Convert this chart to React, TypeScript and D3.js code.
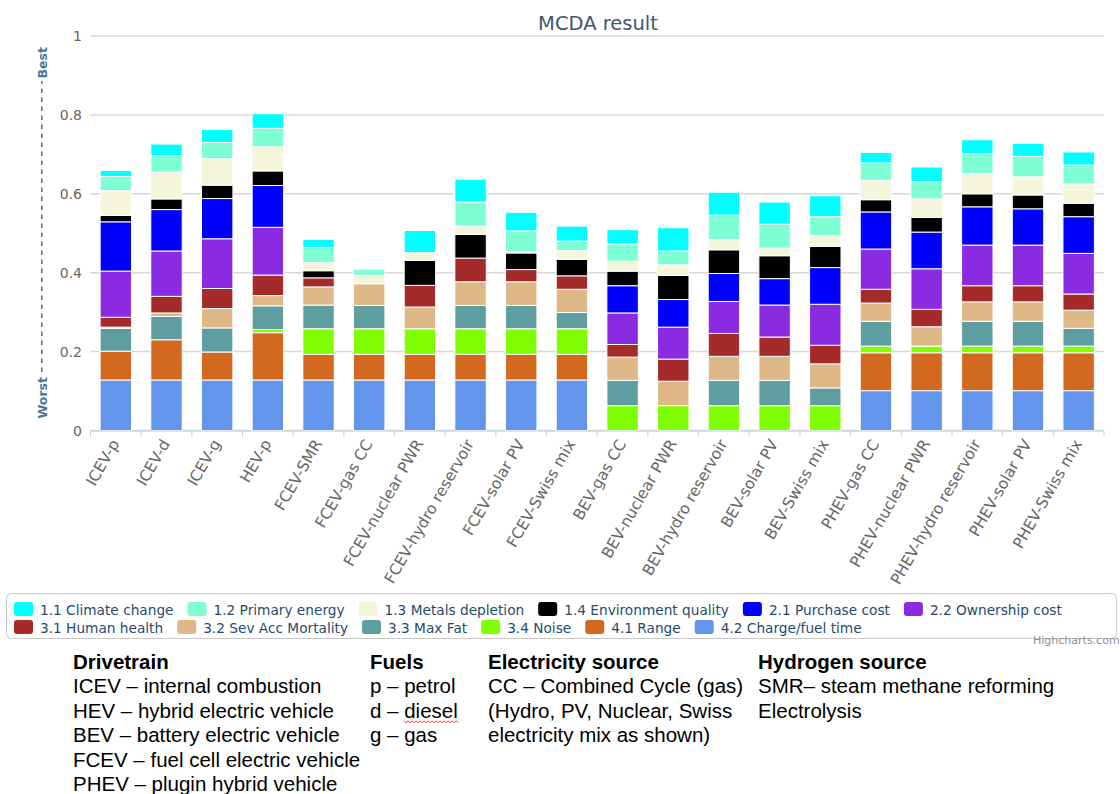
import React, { useMemo } from 'react';
import * as d3 from 'd3';

const categories = [
  'ICEV-p', 'ICEV-d', 'ICEV-g', 'HEV-p', 'FCEV-SMR', 'FCEV-gas CC', 'FCEV-nuclear PWR',
  'FCEV-hydro reservoir', 'FCEV-solar PV', 'FCEV-Swiss mix', 'BEV-gas CC', 'BEV-nuclear PWR',
  'BEV-hydro reservoir', 'BEV-solar PV', 'BEV-Swiss mix', 'PHEV-gas CC', 'PHEV-nuclear PWR',
  'PHEV-hydro reservoir', 'PHEV-solar PV', 'PHEV-Swiss mix',
];

const seriesNames = [
  '1.1 Climate change', '1.2 Primary energy', '1.3 Metals depletion', '1.4 Environment quality',
  '2.1 Purchase cost', '2.2 Ownership cost', '3.1 Human health', '3.2 Sev Acc Mortality',
  '3.3 Max Fat', '3.4 Noise', '4.1 Range', '4.2 Charge/fuel time',
];

const seriesColors = [
  '#00FFFF', '#7FFFD4', '#F5F5DC', '#000000', '#0000FF', '#8A2BE2',
  '#A52A2A', '#DEB887', '#5F9EA0', '#7FFF00', '#D2691E', '#6495ED',
];

const climateChange = [0.015, 0.029, 0.033, 0.037, 0.020, 0, 0.056, 0.058, 0.047, 0.038, 0.036, 0.059, 0.058, 0.056, 0.053, 0.027, 0.037, 0.035, 0.033, 0.033];
const primaryEnergy = [0.036, 0.042, 0.041, 0.047, 0.038, 0.016, 0, 0.061, 0.053, 0.024, 0.044, 0.035, 0.062, 0.061, 0.048, 0.044, 0.044, 0.051, 0.052, 0.048];
const metalsDepletion = [0.063, 0.068, 0.067, 0.061, 0.021, 0.021, 0.020, 0.021, 0.003, 0.022, 0.025, 0.027, 0.026, 0.019, 0.027, 0.049, 0.047, 0.051, 0.046, 0.049];
const environmentQuality = [0.016, 0.027, 0.034, 0.037, 0.018, 0, 0.063, 0.060, 0.042, 0.042, 0.037, 0.061, 0.060, 0.058, 0.054, 0.031, 0.037, 0.033, 0.035, 0.034];
const purchaseCost = [0.125, 0.105, 0.102, 0.106, 0, 0, 0, 0, 0, 0, 0.069, 0.070, 0.071, 0.067, 0.093, 0.094, 0.093, 0.097, 0.092, 0.093];
const ownershipCost = [0.117, 0.115, 0.126, 0.121, 0, 0, 0, 0, 0, 0, 0.080, 0.081, 0.081, 0.081, 0.104, 0.102, 0.103, 0.103, 0.103, 0.103];
const humanHealth = [0.025, 0.042, 0.051, 0.052, 0.023, 0, 0.055, 0.060, 0.031, 0.034, 0.032, 0.056, 0.058, 0.049, 0.047, 0.035, 0.044, 0.041, 0.041, 0.041];
const sevAccMortality = [0.003, 0.009, 0.049, 0.026, 0.046, 0.055, 0.055, 0.060, 0.060, 0.059, 0.059, 0.062, 0.061, 0.061, 0.061, 0.046, 0.049, 0.049, 0.049, 0.046];
const maxFat = [0.058, 0.059, 0.061, 0.060, 0.060, 0.059, 0, 0.059, 0.059, 0.041, 0.064, 0, 0.064, 0.064, 0.045, 0.063, 0, 0.063, 0.063, 0.045];
const noise = [0, 0, 0, 0.008, 0.065, 0.065, 0.065, 0.065, 0.065, 0.065, 0.063, 0.063, 0.063, 0.063, 0.063, 0.017, 0.017, 0.017, 0.017, 0.017];
const range = [0.073, 0.102, 0.071, 0.120, 0.065, 0.065, 0.065, 0.065, 0.065, 0.065, 0, 0, 0, 0, 0, 0.096, 0.096, 0.096, 0.096, 0.096];
const chargeFuelTime = [0.128, 0.128, 0.128, 0.128, 0.128, 0.128, 0.128, 0.128, 0.128, 0.128, 0, 0, 0, 0, 0, 0.101, 0.101, 0.101, 0.101, 0.101];

const seriesValues = [
  climateChange, primaryEnergy, metalsDepletion, environmentQuality, purchaseCost, ownershipCost,
  humanHealth, sevAccMortality, maxFat, noise, range, chargeFuelTime,
];

const yTicks = [0, 0.2, 0.4, 0.6, 0.8, 1];
const yTickLabels = ['0', '0.2', '0.4', '0.6', '0.8', '1'];

const chartTitle = 'MCDA result';
const yTitleLow = 'Worst';
const yTitleHigh = 'Best';
const creditText = 'Highcharts.com';

const noteColumns = [
  { heading: 'Drivetrain', lines: ['ICEV – internal combustion', 'HEV – hybrid electric vehicle', 'BEV – battery electric vehicle', 'FCEV – fuel cell electric vehicle', 'PHEV – plugin hybrid vehicle'] },
  { heading: 'Fuels', lines: ['p – petrol', 'd – diesel', 'g – gas'] },
  { heading: 'Electricity source', lines: ['CC – Combined Cycle (gas)', '(Hydro, PV, Nuclear, Swiss', 'electricity mix as shown)'] },
  { heading: 'Hydrogen source', lines: ['SMR– steam methane reforming', 'Electrolysis'] },
];

const W = 1120;
const H = 794;
const plotLeft = 90.5;
const plotRight = 1104;
const plotTop = 36;
const plotBottom = 430.5;

const hcFont = '"DejaVu Sans", Verdana, sans-serif';
const noteFont = '"Liberation Sans", Arial, sans-serif';

function measure(text: string, font: string): number {
  if (typeof document === 'undefined') return text.length * 7;
  const c = document.createElement('canvas');
  const ctx = c.getContext('2d');
  if (!ctx) return text.length * 7;
  ctx.font = font;
  return ctx.measureText(text).width;
}

export default function App() {
  const x = d3.scaleBand<string>().domain(categories).range([plotLeft, plotRight]).paddingInner(0.38).paddingOuter(0.19);
  const y = d3.scaleLinear().domain([0, 1]).range([plotBottom, plotTop]);

  const keysBottomUp = seriesNames.map((_, i) => i).reverse();
  const table = categories.map((c, ci) => {
    const row: any = { cat: c };
    seriesValues.forEach((arr, si) => { row['s' + si] = arr[ci]; });
    return row;
  });
  const stack = d3.stack<any>().keys(keysBottomUp.map((i) => 's' + i));
  const layers = stack(table);

  const legendFontSize = 13.7;
  const legendItems = useMemo(() => {
    const font = `${legendFontSize}px "DejaVu Sans"`;
    const items: { x: number; row: number; name: string; color: string }[] = [];
    let cx = 14;
    let row = 0;
    seriesNames.forEach((name, i) => {
      const w = measure(name, font);
      if (i === 6) { cx = 14; row = 1; }
      items.push({ x: cx, row, name, color: seriesColors[i] });
      cx += 26 + w + 14;
    });
    return items;
  }, []);

  const step = x.step();
  const boundaries = d3.range(categories.length + 1).map((i) => plotLeft + i * step);

  const noteX = [73, 370, 488, 758];
  const noteBase = 669;
  const noteLine = 24.4;
  const noteSize = 20.5;

  const dieselPrefixW = measure('d – ', `${noteSize}px "Liberation Sans"`);
  const dieselW = measure('diesel', `${noteSize}px "Liberation Sans"`);
  const wavyY = noteBase + 2 * noteLine + 3;
  const wavyX0 = noteX[1] + dieselPrefixW;
  let wavy = `M${wavyX0},${wavyY}`;
  for (let k = 0, px = wavyX0; px < wavyX0 + dieselW; k++) {
    px += 2;
    wavy += ` L${px},${wavyY + (k % 2 === 0 ? 2 : 0)}`;
  }

  return (
    <svg width={W} height={H} style={{ position: 'absolute', left: 0, top: 0, background: '#fff' }} xmlns="http://www.w3.org/2000/svg">
      <rect x={0} y={0} width={W} height={H} fill="#fff" />
      <text x={598} y={30} textAnchor="middle" fontFamily={hcFont} fontSize={19.5} fill="#3E576F">{chartTitle}</text>

      {yTicks.map((t) => (
        <line key={'g' + t} x1={plotLeft} x2={plotRight} y1={y(t)} y2={y(t)} stroke="#D8D8D8" strokeWidth={1.5} />
      ))}
      {yTicks.map((t, i) => (
        <text key={'yl' + t} x={82} y={y(t) + 5} textAnchor="end" fontFamily={hcFont} fontSize={14} fill="#666">{yTickLabels[i]}</text>
      ))}

      <g fontFamily={hcFont} fontSize={12.5} fontWeight="bold" fill="#4d759e">
        <text transform={`translate(46.5,${plotBottom - 12}) rotate(-90)`} textAnchor="start">{yTitleLow}</text>
        <text transform={`translate(46.5,${plotTop + 11}) rotate(-90)`} textAnchor="end">{yTitleHigh}</text>
      </g>
      <line x1={41.8} x2={41.8} y1={372} y2={81} stroke="#4d759e" strokeWidth={1.6} strokeDasharray="4.5 4.5" />

      {layers.map((layer) => {
        const si = Number(String(layer.key).slice(1));
        return (
          <g key={layer.key as string} fill={seriesColors[si]}>
            {layer.map((d, ci) => {
              const h = y(d[0]) - y(d[1]);
              if (h <= 0.01) return null;
              return (
                <rect key={ci} x={x(categories[ci])} y={y(d[1])} width={x.bandwidth()} height={h} stroke="#fff" strokeWidth={1} />
              );
            })}
          </g>
        );
      })}

      <line x1={plotLeft} x2={plotRight} y1={plotBottom + 0.5} y2={plotBottom + 0.5} stroke="#C0D0E0" strokeWidth={1} />
      {boundaries.map((bx, i) => (
        <line key={'t' + i} x1={bx} x2={bx} y1={plotBottom + 0.5} y2={plotBottom + 5.5} stroke="#C0D0E0" strokeWidth={1} />
      ))}
      {categories.map((c) => {
        const cx = (x(c) as number) + x.bandwidth() / 2 + 4;
        return (
          <text key={'xl' + c} transform={`translate(${cx},${plotBottom + 13}) rotate(-60)`} textAnchor="end" fontFamily={hcFont} fontSize={15.5} fill="#666">{c}</text>
        );
      })}

      <rect x={6.5} y={593.5} width={1110} height={45} rx={5} ry={5} fill="none" stroke="#C8C8C8" strokeWidth={1} />
      {legendItems.map((it) => (
        <g key={it.name}>
          <rect x={it.x} y={602 + it.row * 18} width={19} height={14} rx={3} ry={3} fill={it.color} />
          <text x={it.x + 26} y={615 + it.row * 18} fontFamily={hcFont} fontSize={legendFontSize} fill="#274b6d">{it.name}</text>
        </g>
      ))}
      <text x={1033} y={644} fontFamily={hcFont} fontSize={11} fill="#909090">{creditText}</text>

      <g fontFamily={noteFont} fontSize={noteSize} fill="#000">
        {noteColumns.map((col, ci) => (
          <g key={col.heading}>
            <text x={noteX[ci]} y={noteBase} fontWeight="bold">{col.heading}</text>
            {col.lines.map((ln, li) => (
              <text key={ln} x={noteX[ci]} y={noteBase + (li + 1) * noteLine}>{ln}</text>
            ))}
          </g>
        ))}
      </g>
      <path d={wavy} fill="none" stroke="#e02020" strokeWidth={0.9} />
    </svg>
  );
}
